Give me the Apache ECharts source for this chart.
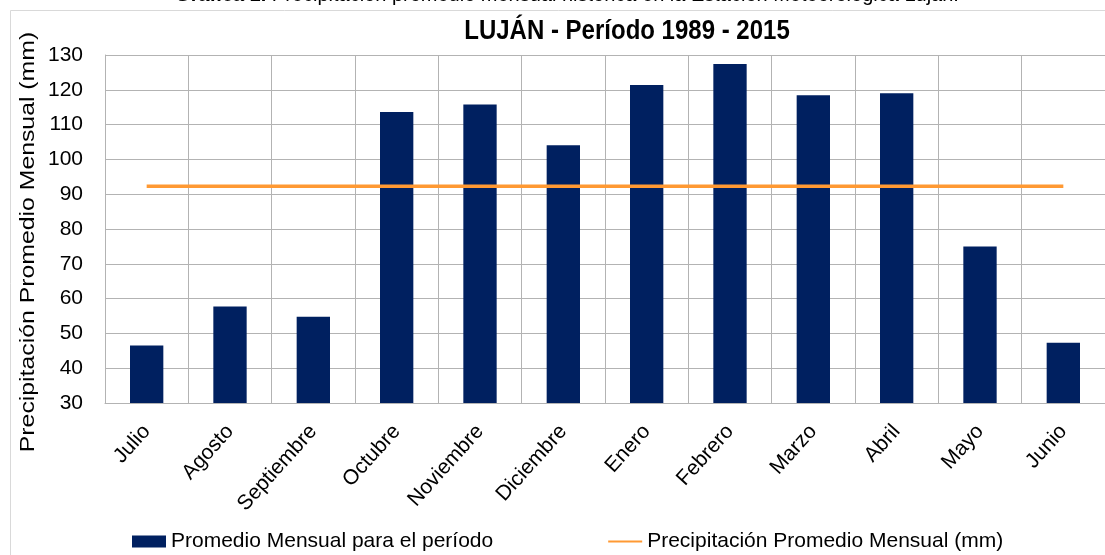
<!DOCTYPE html>
<html>
<head>
<meta charset="utf-8">
<script src="https://cdn.jsdelivr.net/npm/echarts@6/dist/echarts.min.js"></script>
<style>
  html, body { margin: 0; padding: 0; background: #fff; }
  #chart { width: 1105px; height: 555px; }
</style>
</head>
<body>
<div id="chart"></div>
<script>
// Monthly rainfall, Luján station, 1989–2015 (hydrological year July → June)
const meses = ['Julio', 'Agosto', 'Septiembre', 'Octubre', 'Noviembre', 'Diciembre',
               'Enero', 'Febrero', 'Marzo', 'Abril', 'Mayo', 'Junio'];
const promedioMensual = [46.5, 57.7, 54.8, 113.6, 115.8, 104.1, 121.4, 127.4, 118.4, 119.0, 75.0, 47.3];
const promedioGeneral = [92.3, 92.3, 92.3, 92.3, 92.3, 92.3, 92.3, 92.3, 92.3, 92.3, 92.3, 92.3];

const serieBarras = 'Promedio Mensual para el período';
const serieLinea = 'Precipitación Promedio Mensual (mm)';
const tituloEje = 'Precipitación Promedio Mensual (mm)';
const titulo = 'LUJÁN - Período 1989 - 2015';
const leyenda = 'Gráfica 1.';
const leyendaTexto = ' Precipitación promedio mensual histórica en la Estación Meteorológica Luján.';

const SANS = "'Liberation Sans', Arial, sans-serif";
const GRID = '#b3b3b3';

const chart = echarts.init(document.getElementById('chart'), null, { renderer: 'canvas' });

chart.setOption({
  backgroundColor: '#ffffff',
  animation: false,
  grid: { left: 105, top: 55, width: 1001, height: 348, containLabel: false },
  xAxis: {
    type: 'category',
    data: meses,
    boundaryGap: true,
    axisLine: { show: true, lineStyle: { color: GRID, width: 1 } },
    axisTick: { show: false },
    splitLine: { show: true, interval: 0, lineStyle: { color: GRID, width: 1 } },
    axisLabel: {
      interval: 0, rotate: 48, margin: 25,
      color: '#000', fontFamily: SANS, fontSize: 21
    }
  },
  yAxis: {
    type: 'value',
    min: 30, max: 130, interval: 10,
    axisLine: { show: true, lineStyle: { color: GRID, width: 1 } },
    axisTick: { show: false },
    splitLine: { show: true, lineStyle: { color: GRID, width: 1 } },
    axisLabel: { margin: 22, color: '#000', fontFamily: SANS, fontSize: 21 }
  },
  legend: {
    left: 132, top: 531, padding: 0,
    itemGap: 114,
    itemWidth: 34, itemHeight: 12,
    textStyle: { color: '#000', fontFamily: SANS, fontSize: 21 },
    data: [
      { name: serieBarras, icon: 'rect' },
      { name: serieLinea, itemStyle: { opacity: 0 } }
    ]
  },
  series: [
    {
      name: serieBarras,
      type: 'bar',
      data: promedioMensual,
      barWidth: '40%',
      itemStyle: { color: '#002060' },
      z: 2
    },
    {
      name: serieLinea,
      type: 'line',
      data: promedioGeneral,
      symbol: 'none',
      lineStyle: { color: '#ff9933', width: 3.5 },
      itemStyle: { color: '#ff9933' },
      z: 3
    }
  ],
  graphic: [
    {
      type: 'rect', silent: true, z: -1,
      shape: { x: 10.5, y: 10.5, width: 1200, height: 600 },
      style: { fill: null, stroke: '#d9d9d9', lineWidth: 1 }
    },
    {
      type: 'text', silent: true,
      x: 567, y: -5,
      style: {
        text: '{b|' + leyenda + '}' + leyendaTexto,
        align: 'center', verticalAlign: 'middle',
        font: '20px ' + SANS, fill: '#000',
        rich: { b: { fontFamily: SANS, fontSize: 20, fontWeight: 'bold', fill: '#000' } }
      }
    },
    {
      type: 'text', silent: true,
      x: 627, y: 31, scaleY: 1.15,
      style: {
        text: titulo, align: 'center', verticalAlign: 'middle',
        font: 'bold 24px ' + SANS, fill: '#000'
      }
    },
    {
      type: 'text', silent: true,
      x: 28, y: 242, rotation: Math.PI / 2, scaleX: 1.24,
      style: {
        text: tituloEje, align: 'center', verticalAlign: 'middle',
        font: '20px ' + SANS, fill: '#000'
      }
    }
  ]
});
</script>
</body>
</html>
